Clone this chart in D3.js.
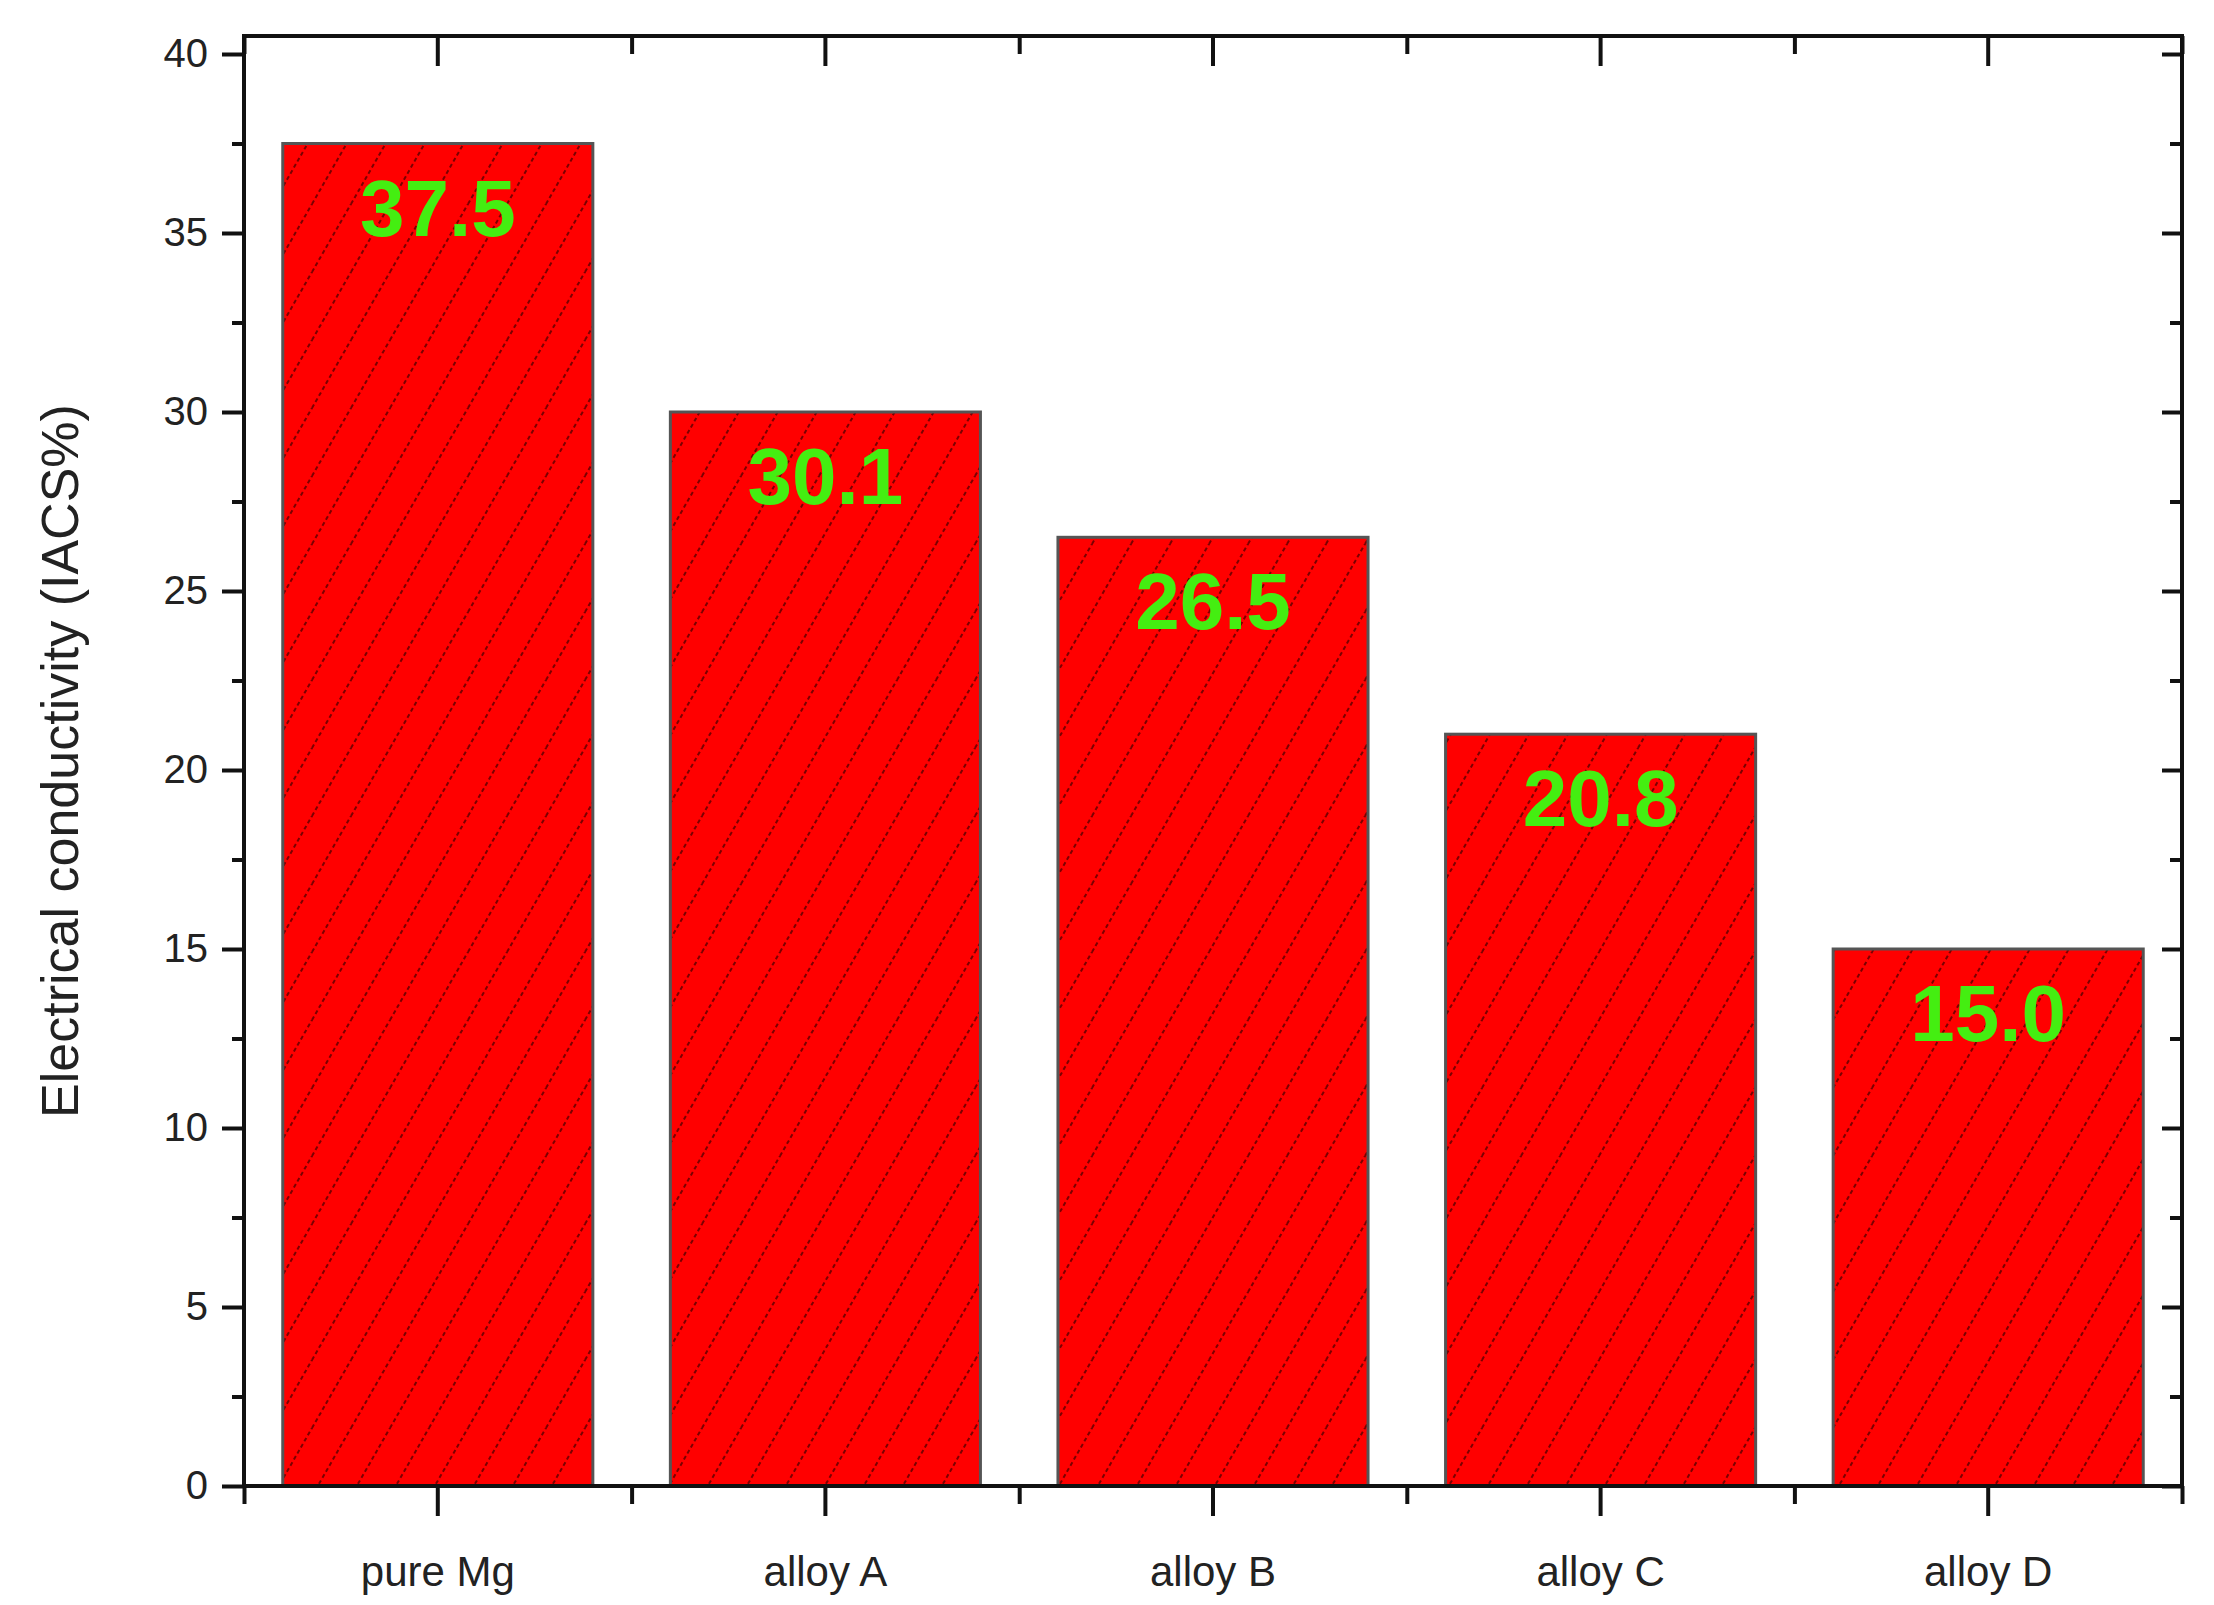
<!DOCTYPE html>
<html><head><meta charset="utf-8">
<script src="https://cdn.jsdelivr.net/npm/d3@7"></script>
<style>body{margin:0;background:#fff}svg{display:block}</style>
</head><body><svg></svg>
<script>
const categories = ["pure Mg","alloy A","alloy B","alloy C","alloy D"]
const values = [37.5, 30.0, 26.5, 21.0, 15.0]
const labels = ["37.5","30.1","26.5","20.8","15.0"]
const yTicks = [0,5,10,15,20,25,30,35,40]

let width = 2214, height = 1605
let pLeft = 244, pRight = 2182, pTop = 36, pBottom = 1486

let svg = d3.select('svg').attr('width', width).attr('height', height)

let defs = svg.append('defs')
let pat = defs.append('pattern').attr('id','hatch').attr('patternUnits','userSpaceOnUse')
   .attr('width',39).attr('height',68)
pat.append('rect').attr('width',39).attr('height',68).attr('fill','#ff0000')
pat.append('path').attr('d','M-39,68 L39,-68 M0,68 L78,-68 M39,68 L117,-68')
   .attr('stroke','#7a0000').attr('stroke-width',2).attr('stroke-dasharray','4,3')

let xScale = d3.scaleBand().domain(categories).range([pLeft,pRight]).paddingInner(0.2).paddingOuter(0.1)
let yScale = d3.scaleLinear().domain([0,40]).range([1486, 54])

svg.selectAll('rect.bar').data(values).enter().append('rect')
   .attr('class','bar')
   .attr('x',(d,i)=>xScale(categories[i]))
   .attr('width',xScale.bandwidth())
   .attr('y',d=>yScale(d))
   .attr('height',d=>yScale(0)-yScale(d))
   .attr('fill','url(#hatch)')
   .attr('stroke','#555').attr('stroke-width',3)

svg.selectAll('text.val').data(labels).enter().append('text')
   .attr('x',(d,i)=>xScale(categories[i])+xScale.bandwidth()/2)
   .attr('y',(d,i)=>yScale(values[i])+92)
   .attr('text-anchor','middle')
   .attr('font-family','Liberation Sans, Arial').attr('font-weight','bold')
   .attr('font-size',80).attr('fill','#44ee11')
   .text(d=>d)

// frame
svg.append('rect').attr('x',pLeft).attr('y',pTop).attr('width',pRight-pLeft).attr('height',pBottom-pTop)
   .attr('fill','none').attr('stroke','#111').attr('stroke-width',4)

let edgeScale = d3.scaleLinear().domain([0,5]).range([pLeft,pRight])
let edges = d3.range(6)
let minors = yTicks.slice(0,-1).map(v=>v+2.5)

let styleLines = g => { g.select('.domain').remove(); g.selectAll('line').attr('stroke','#111').attr('stroke-width',4) }

let yAxis = d3.axisLeft(yScale).tickValues(yTicks).tickSize(22).tickPadding(14)
svg.append('g').attr('transform','translate('+pLeft+',0)').call(yAxis)
   .call(styleLines)
   .call(g=>g.selectAll('text').attr('font-family','Liberation Sans, Arial').attr('font-size',40).attr('fill','#222'))
svg.append('g').attr('transform','translate('+pLeft+',0)')
   .call(d3.axisLeft(yScale).tickValues(minors).tickSize(12).tickFormat('')).call(styleLines)
svg.append('g').attr('transform','translate('+pRight+',0)')
   .call(d3.axisRight(yScale).tickValues(yTicks).tickSize(-20).tickFormat('')).call(styleLines)
svg.append('g').attr('transform','translate('+pRight+',0)')
   .call(d3.axisRight(yScale).tickValues(minors).tickSize(-12).tickFormat('')).call(styleLines)

let xAxis = d3.axisBottom(xScale).tickSize(30).tickPadding(40)
svg.append('g').attr('transform','translate(0,'+pBottom+')').call(xAxis)
   .call(styleLines)
   .call(g=>g.selectAll('text').attr('font-family','Liberation Sans, Arial').attr('font-size',42).attr('fill','#222'))
svg.append('g').attr('transform','translate(0,'+pBottom+')')
   .call(d3.axisBottom(edgeScale).tickValues(edges).tickSize(18).tickFormat('')).call(styleLines)
svg.append('g').attr('transform','translate(0,'+pTop+')')
   .call(d3.axisTop(xScale).tickSize(-30).tickFormat('')).call(styleLines)
svg.append('g').attr('transform','translate(0,'+pTop+')')
   .call(d3.axisTop(edgeScale).tickValues(edges).tickSize(-18).tickFormat('')).call(styleLines)

svg.append('text')
   .attr('transform','translate(78,'+((pTop+pBottom)/2)+') rotate(-90)')
   .attr('text-anchor','middle')
   .attr('font-family','Liberation Sans, Arial').attr('font-size',52).attr('fill','#222')
   .text('Electrical conductivity (IACS%)')
</script></body></html>
